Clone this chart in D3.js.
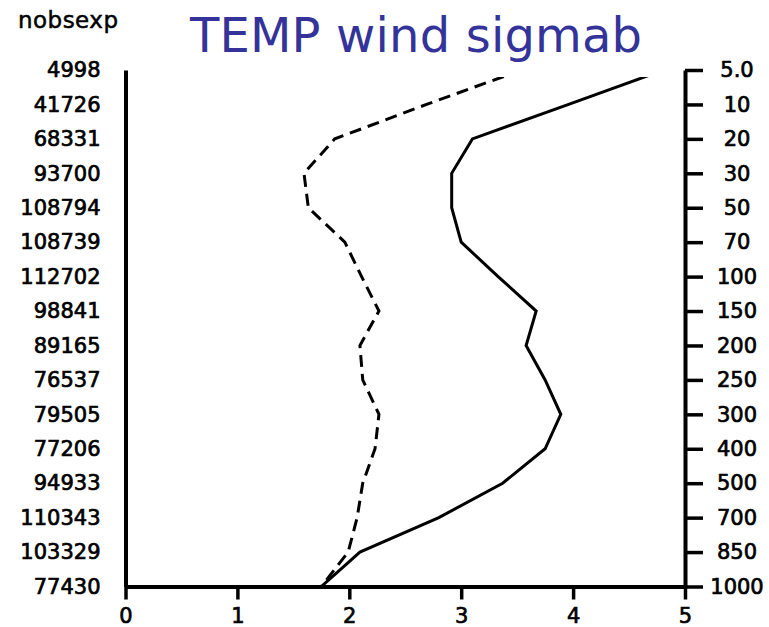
<!DOCTYPE html>
<html>
<head>
<meta charset="utf-8">
<script src="https://cdn.jsdelivr.net/npm/d3@7"></script>
<style>
  body { margin: 0; background: #fff; }
  svg { display: block; }
  text { font-family: "DejaVu Sans", sans-serif; fill: #000; }
</style>
</head>
<body>
<svg id="chart"></svg>
<script>
// pressure levels (right axis) and obs counts (left axis), top to bottom
const levels = ["5.0", "10", "20", "30", "50", "70", "100", "150", "200", "250", "300", "400", "500", "700", "850", "1000"];
const nobsexp = [4998, 41726, 68331, 93700, 108794, 108739, 112702, 98841, 89165, 76537, 79505, 77206, 94933, 110343, 103329, 77430];

// sigmab values per level
const sigmabSolid = [4.81, 3.96, 3.10, 2.915, 2.915, 3.0, 3.33, 3.67, 3.58, 3.75, 3.89, 3.75, 3.37, 2.80, 2.095, 1.75];
const sigmabDashed = [3.54, 2.69, 1.87, 1.595, 1.634, 1.96, 2.11, 2.265, 2.095, 2.12, 2.265, 2.23, 2.12, 2.07, 1.99, 1.75];

const xTicks = [0, 1, 2, 3, 4, 5];

const svg = d3.select("#chart")
    .attr("width", 769)
    .attr("height", 627);

const plotLeft = 125.5, plotRight = 685, plotTop = 70, plotBottom = 586.5;

const x = d3.scaleLinear().domain([0, 5]).range([plotLeft, plotRight]);
const y = d3.scalePoint().domain(levels).range([plotTop, plotBottom]);
const yIdx = d3.scalePoint().domain(d3.range(levels.length)).range([plotTop, plotBottom]);

// title
svg.append("text")
    .attr("x", 190)
    .attr("y", 52)
    .attr("font-size", 48)
    .attr("textLength", 452)
    .style("fill", "#333399")
    .text("TEMP wind sigmab");

svg.append("text")
    .attr("x", 18)
    .attr("y", 28)
    .attr("font-size", 23)
    .attr("textLength", 100)
    .attr("stroke", "#000")
    .attr("stroke-width", 0.5)
    .text("nobsexp");

// clip the profiles to the plot box
svg.append("clipPath").attr("id", "plotClip")
    .append("rect")
    .attr("x", plotLeft)
    .attr("y", plotTop + 7)
    .attr("width", plotRight - plotLeft)
    .attr("height", plotBottom - plotTop - 7);

const line = d3.line()
    .x(d => x(d.v))
    .y(d => y(d.lev));

const solidData = levels.map((lev, i) => ({ lev: lev, v: sigmabSolid[i] }));
const dashedData = levels.map((lev, i) => ({ lev: lev, v: sigmabDashed[i] }));

const plot = svg.append("g").attr("clip-path", "url(#plotClip)");

plot.append("path")
    .datum(dashedData)
    .attr("d", line)
    .attr("fill", "none")
    .attr("stroke", "#000")
    .attr("stroke-width", 3)
    .attr("stroke-dasharray", "12,7");

plot.append("path")
    .datum(solidData)
    .attr("d", line)
    .attr("fill", "none")
    .attr("stroke", "#000")
    .attr("stroke-width", 3);

// left axis: obs counts
const gLeft = svg.append("g")
    .attr("transform", `translate(${plotLeft},0)`)
    .call(d3.axisLeft(yIdx)
        .tickSize(0)
        .tickPadding(25)
        .tickFormat(i => nobsexp[i]));

// right axis: levels
const gRight = svg.append("g")
    .attr("transform", `translate(${plotRight},0)`)
    .call(d3.axisRight(y)
        .tickSize(18)
        .tickSizeOuter(0));
gRight.selectAll(".tick text")
    .attr("x", 52)
    .attr("text-anchor", "middle");

// bottom axis
const gBottom = svg.append("g")
    .attr("transform", `translate(0,${plotBottom})`)
    .call(d3.axisBottom(x)
        .tickValues(xTicks)
        .tickSize(13)
        .tickSizeOuter(0)
        .tickFormat(d3.format("d")));
gBottom.selectAll(".tick text")
    .attr("y", 36)
    .attr("dy", 0);

[gLeft, gRight, gBottom].forEach(g => {
    g.selectAll(".tick text")
        .attr("font-size", 21)
        .attr("stroke", "#000")
        .attr("stroke-width", 0.7)
        .style("font-family", "'DejaVu Sans', sans-serif");
    g.select(".domain").attr("stroke-width", 4);
    g.selectAll(".tick line").attr("stroke-width", 3.5);
});
</script>
</body>
</html>
